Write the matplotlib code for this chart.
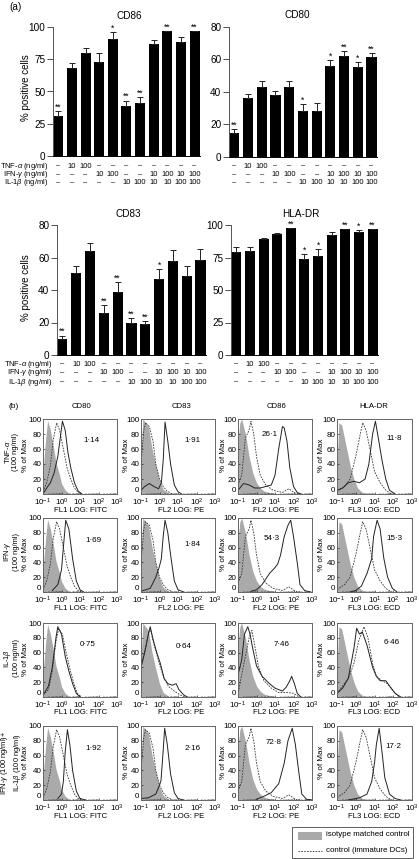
"""
dendritic cell markers: bars of % positive cells and flow cytometry histograms
"""
import matplotlib
matplotlib.use('Agg')
import matplotlib.pyplot as plt
from matplotlib.patches import Rectangle
from matplotlib.transforms import blended_transform_factory

plt.rcParams['font.family'] = ['Liberation Sans', 'DejaVu Sans']
plt.rcParams['mathtext.fontset'] = 'custom'
plt.rcParams['mathtext.rm'] = 'Liberation Sans'
plt.rcParams['mathtext.it'] = 'Liberation Sans:italic'
plt.rcParams['mathtext.bf'] = 'Liberation Sans:bold'

W, H = 419, 859

# part (a), bars
tnf_doses = ['–', '10', '100', '–', '–', '–', '–', '–', '–', '–', '–']
ifn_doses = ['–', '–', '–', '10', '100', '–', '–', '10', '100', '10', '100']
il1_doses = ['–', '–', '–', '–', '–', '10', '100', '10', '10', '100', '100']

cd86_vals = [31, 68, 80, 73, 91, 39, 41, 87, 97, 88, 97]
cd86_tops = [35, 72, 84, 80, 96, 43, 46, 90, 97, 92, 97]
cd86_stars = ['**', '', '', '', '*', '**', '**', '', '**', '', '**']

cd80_vals = [14.5, 36, 43, 38, 43, 28.5, 28.5, 56, 62, 55.5, 61.5]
cd80_tops = [17, 39, 47, 40.5, 46.5, 32.5, 33, 59.5, 65, 58.5, 64]
cd80_stars = ['**', '', '', '', '', '*', '', '*', '**', '*', '**']

cd83_vals = [10, 50.5, 64, 26, 39, 20, 19, 46.5, 58, 48.5, 58.7]
cd83_tops = [12, 54.5, 69, 31, 45, 22.5, 21, 53, 64.5, 54.5, 65]
cd83_stars = ['**', '', '', '**', '**', '**', '**', '*', '', '', '']

hla_vals = [79, 80, 89, 93, 97.5, 73.5, 76.5, 92.5, 97, 94.5, 97]
hla_tops = [83, 83, 90, 94, 97.5, 78, 81.5, 95, 97, 96.5, 97]
hla_stars = ['', '', '', '', '**', '*', '*', '', '**', '*', '**']

# part (b), histograms as (log10 fluorescence, % of max)
iso_cd80 = [(-1, 30), (-.85, 75), (-.75, 98), (-.6, 85), (-.45, 65), (-.3, 42), (-.1, 25), (0, 14), (.2, 5), (.4, 1), (.6, 0)]
iso_cd83 = [(-1, 50), (-.9, 100), (-.6, 90), (-.4, 60), (-.2, 38), (0, 18), (.2, 6), (.5, 1), (.8, 0)]
iso_cd86 = [(-1, 70), (-.9, 95), (-.8, 100), (-.6, 80), (-.4, 50), (-.2, 28), (0, 15), (.2, 8), (.4, 4), (.7, 2), (1, 0)]
iso_hla = [(-1, 40), (-.9, 95), (-.75, 92), (-.5, 62), (-.3, 38), (-.1, 20), (.1, 8), (.3, 3), (.6, 0)]

ctl_cd80 = [(-1, 3), (-.8, 15), (-.6, 38), (-.45, 72), (-.26, 95), (-.1, 85), (.1, 60), (.3, 35), (.5, 20), (.7, 8), (.9, 2), (1.1, 0)]
ctl_cd83 = [(-1, 40), (-.85, 85), (-.75, 95), (-.55, 90), (-.35, 70), (-.2, 40), (0, 20), (.2, 10), (.4, 4), (.7, 0)]
ctl_cd86 = [(-1, 12), (-.8, 25), (-.6, 75), (-.4, 85), (-.3, 97), (-.15, 80), (0, 50), (.2, 25), (.5, 12), (.9, 5), (1.4, 2), (1.75, 7), (2.1, 1), (2.4, 0)]
ctl_hla = [(-1, 3), (-.6, 10), (-.3, 20), (0, 50), (.2, 75), (.37, 95), (.55, 85), (.8, 55), (1, 30), (1.3, 15), (1.6, 5), (1.9, 0)]

tnf_cd80 = [(-1, 0), (-.8, 8), (-.6, 15), (-.4, 28), (-.2, 50), (-.05, 78), (.05, 97), (.2, 85), (.35, 55), (.5, 35), (.7, 15), (.9, 4), (1.1, 0)]
tnf_cd83 = [(-1, 5), (-.8, 10), (-.55, 14), (-.3, 10), (-.05, 7), (.1, 15), (.2, 45), (.3, 96), (.45, 70), (.6, 40), (.8, 12), (1, 3), (1.2, 0)]
tnf_cd86 = [(-1, 5), (-.7, 14), (-.4, 12), (-.1, 8), (.2, 8), (.5, 10), (.8, 12), (1, 25), (1.2, 60), (1.4, 90), (1.5, 88), (1.65, 70), (1.8, 35), (2, 10), (2.2, 2), (2.4, 0)]
tnf_hla = [(-1, 5), (-.7, 8), (-.4, 15), (-.1, 17), (.2, 15), (.5, 20), (.7, 40), (.9, 80), (1.05, 97), (1.2, 75), (1.4, 45), (1.6, 20), (1.8, 5), (2.1, 0)]

ifn_cd80 = [(-.5, 2), (-.2, 10), (0, 30), (.1, 60), (.23, 97), (.4, 85), (.6, 45), (.8, 15), (1, 3), (1.2, 0)]
ifn_cd83 = [(-1, 1), (-.5, 5), (-.2, 20), (0, 35), (.1, 45), (.2, 75), (.3, 97), (.45, 80), (.6, 50), (.8, 15), (1, 3), (1.3, 0)]
ifn_cd86 = [(-.3, 1), (0, 3), (.3, 10), (.7, 25), (1, 33), (1.15, 38), (1.3, 50), (1.5, 75), (1.7, 90), (1.85, 97), (2, 75), (2.2, 40), (2.35, 10), (2.6, 2), (2.9, 0)]
ifn_hla = [(-.3, 0), (0, 2), (.3, 8), (.6, 25), (.85, 45), (.95, 75), (1.14, 97), (1.3, 85), (1.5, 45), (1.7, 20), (1.95, 5), (2.2, 0)]

il1_cd80 = [(-1, 2), (-.7, 15), (-.5, 40), (-.3, 80), (-.2, 95), (0, 85), (.2, 55), (.4, 35), (.6, 18), (.8, 5), (1, 0)]
il1_cd83 = [(-1, 40), (-.8, 60), (-.6, 85), (-.5, 95), (-.35, 78), (-.15, 60), (.05, 45), (.25, 25), (.45, 18), (.7, 16), (.9, 18), (1.05, 10), (1.3, 3), (1.5, 0)]
il1_cd86 = [(-1, 30), (-.8, 50), (-.65, 85), (-.47, 95), (-.35, 85), (-.2, 65), (0, 42), (.3, 28), (.7, 18), (1, 12), (1.4, 8), (1.6, 13), (1.8, 22), (1.9, 28), (2.05, 18), (2.2, 5), (2.4, 0)]
il1_hla = [(-1, 5), (-.7, 12), (-.4, 25), (-.1, 65), (.05, 93), (.2, 85), (.35, 88), (.6, 70), (.9, 40), (1.1, 28), (1.3, 22), (1.6, 22), (1.8, 15), (2.1, 5), (2.4, 0)]

il1_ctl_cd80 = [(-1, 3), (-.7, 10), (-.5, 35), (-.3, 75), (-.15, 92), (.05, 85), (.25, 60), (.45, 38), (.65, 20), (.85, 5), (1.05, 0)]
il1_ctl_cd83 = [(-1, 42), (-.8, 62), (-.6, 85), (-.5, 92), (-.35, 76), (-.15, 58), (.05, 40), (.25, 25), (.5, 14), (.8, 8), (1.1, 3), (1.4, 0)]
il1_ctl_cd86 = [(-1, 3), (-.8, 30), (-.6, 55), (-.4, 80), (-.25, 90), (-.1, 70), (.1, 42), (.4, 22), (.8, 12), (1.2, 6), (1.7, 6), (2, 5), (2.3, 0)]
il1_ctl_hla = [(-1, 5), (-.7, 15), (-.4, 25), (-.1, 45), (.15, 75), (.44, 95), (.65, 80), (.9, 45), (1.1, 28), (1.4, 22), (1.7, 18), (2, 8), (2.3, 0)]

both_cd80 = [(-.2, 2), (0, 8), (.1, 25), (.2, 65), (.32, 95), (.45, 75), (.6, 40), (.8, 12), (1, 2), (1.3, 0)]
both_cd83 = [(-1, 2), (-.6, 3), (-.2, 8), (0, 20), (.08, 26), (.18, 60), (.28, 97), (.42, 75), (.6, 35), (.8, 10), (1, 2), (1.3, 0)]
both_cd86 = [(0, 1), (.4, 5), (.8, 10), (1.2, 22), (1.5, 50), (1.7, 80), (1.93, 97), (2.1, 75), (2.3, 35), (2.45, 8), (2.7, 1), (3, 0)]
both_hla = [(-.4, 0), (.2, 3), (.6, 8), (.85, 25), (1, 50), (1.1, 75), (1.25, 97), (1.4, 65), (1.55, 30), (1.8, 8), (2.1, 2), (2.4, 0)]

marker_names = ['CD80', 'CD83', 'CD86', 'HLA-DR']
channel_names = ['FL1 LOG: FITC', 'FL2 LOG: PE', 'FL2 LOG: PE', 'FL3 LOG: ECD']
iso_curves = [iso_cd80, iso_cd83, iso_cd86, iso_hla]
ctl_curves = [ctl_cd80, ctl_cd83, ctl_cd86, ctl_hla]
solid_rows = [[tnf_cd80, tnf_cd83, tnf_cd86, tnf_hla],
              [ifn_cd80, ifn_cd83, ifn_cd86, ifn_hla],
              [il1_cd80, il1_cd83, il1_cd86, il1_hla],
              [both_cd80, both_cd83, both_cd86, both_hla]]
dash_rows = [ctl_curves, ctl_curves,
             [il1_ctl_cd80, il1_ctl_cd83, il1_ctl_cd86, il1_ctl_hla],
             ctl_curves]
mfi_rows = [['1·14', '1·91', '26·1', '11·8'],
            ['1·69', '1·84', '54·3', '15·3'],
            ['0·75', '0·64', '7·46', '6·46'],
            ['1·92', '2·16', '72·8', '17·2']]
mfi_x = [[91, 192, 270, 394], [93, 192, 272, 394], [88, 184, 282, 392], [93, 193, 274, 393]]
mfi_y = [[440, 440, 435, 439], [541, 544, 539, 539], [645, 646, 644, 643], [748, 748, 743, 747]]


def pixel_axes(left, top, right, bottom):
    return fig.add_axes((left / W, 1 - bottom / H, (right - left) / W, (bottom - top) / H))


fig = plt.figure(figsize=(W / 100, H / 100), dpi=100)
page = fig.add_axes((0, 0, 1, 1))
page.set_xlim(0, W)
page.set_ylim(H, 0)
page.axis('off')
page.set_zorder(5)


def bar_panel(box, title, vals, tops, stars, ymax, yticks, title_xy, rows_y, names_right=None, ylabel_y=None):
    ax = pixel_axes(*box)
    ax.patch.set_alpha(0)
    xs = list(range(len(vals)))
    ax.bar(xs, vals, width=0.74, color='black')
    errs = [t - v for t, v in zip(tops, vals)]
    ax.errorbar(xs, vals, yerr=[[0] * len(vals), errs], fmt='none', ecolor='#222222',
                elinewidth=0.7, capsize=2, capthick=0.7)
    ax.set_xlim(-0.39, 10.4)
    ax.set_ylim(0, ymax)
    ax.set_xticks([])
    ax.set_yticks(yticks)
    ax.tick_params(axis='y', labelsize=7.2, length=4, width=0.6, pad=1.5, color='#333333')
    ax.spines['right'].set_color('none')
    ax.spines['top'].set_color('none')
    ax.spines['left'].set_color('#555555')
    ax.spines['left'].set_linewidth(0.7)
    ax.spines['bottom'].set_linewidth(0.7)
    for x, t, s in zip(xs, tops, stars):
        if s:
            ax.annotate(s, (x, t), xytext=(0, -0.5), textcoords='offset points', ha='center',
                        va='bottom', fontsize=6.2)
    page.text(title_xy[0], title_xy[1], title, ha='center', va='center', fontsize=7.2)
    trans = blended_transform_factory(ax.transData, page.transData)
    for doses, y in zip([tnf_doses, ifn_doses, il1_doses], rows_y):
        for x, d in zip(xs, doses):
            ax.text(x, y, d, transform=trans, ha='center', va='center', fontsize=5.4, clip_on=False)
    if names_right:
        names = ['TNF-$\\alpha$ (ng/ml)', 'IFN-$\\gamma$ (ng/ml)', 'IL-1$\\beta$ (ng/ml)']
        for n, y in zip(names, rows_y):
            page.text(names_right, y, n, ha='right', va='center', fontsize=5.4)
    if ylabel_y:
        page.text(26, ylabel_y, '% positive cells', rotation=90,
                  ha='center', va='center', fontsize=7.0)
    return ax


bar_panel((53, 27, 200, 156), 'CD86', cd86_vals, cd86_tops, cd86_stars, 100, [0, 25, 50, 75, 100],
          (129, 16), (166, 174.5, 183), names_right=48, ylabel_y=87.5)
bar_panel((229, 27, 377, 157), 'CD80', cd80_vals, cd80_tops, cd80_stars, 80, [0, 20, 40, 60, 80],
          (297, 15), (166, 174.5, 183))
bar_panel((57, 225, 206, 355), 'CD83', cd83_vals, cd83_tops, cd83_stars, 80, [0, 20, 40, 60, 80],
          (128, 214), (364, 373, 382), names_right=52, ylabel_y=288)
bar_panel((231, 225, 378, 355), 'HLA-DR', hla_vals, hla_tops, hla_stars, 100, [0, 25, 50, 75, 100],
          (301, 214), (364, 373, 382))

page.text(9, 7, '(a)', fontsize=7.2, ha='left', va='center')
page.text(8, 407, '(b)', fontsize=6, ha='left', va='center')

# part (b) grid
col_lefts = [43, 141, 238, 337]
col_rights = [117, 215, 312, 412]
col_mid = [81, 181, 276, 374]
ylabel_xs = [25, 126, 223, 321]
row_tops = [419, 518, 623, 726]
row_bottoms = [494, 592, 697, 800]
row_names = ['TNF-$\\alpha$\n(100 ng/ml)', 'IFN-$\\gamma$\n(100 ng/ml)', 'IL-1$\\beta$\n(100 ng/ml)',
             'IFN-$\\gamma$ (100 ng/ml)+\nIL-1$\\beta$ (100 ng/ml)']
row_name_y = [452, 552, 658, 763]

for c, name in enumerate(marker_names):
    page.text(col_mid[c], 407, name, ha='center', va='center', fontsize=5.6)

for r in range(4):
    page.text(11, row_name_y[r], row_names[r], rotation=90, ha='center', va='center',
              fontsize=5.4, linespacing=1.15)
    for c in range(4):
        ax = pixel_axes(col_lefts[c], row_tops[r], col_rights[c], row_bottoms[r])
        iso = iso_curves[c]
        dash = dash_rows[r][c]
        solid = solid_rows[r][c]
        ax.fill_between([10 ** p[0] for p in iso], [p[1] for p in iso], 0, color='#aaaaaa', lw=0)
        ax.plot([10 ** p[0] for p in dash], [p[1] for p in dash], color='#333333', lw=0.6,
                dashes=(2, 1.4))
        ax.plot([10 ** p[0] for p in solid], [p[1] for p in solid], color='#222222', lw=0.7)
        ax.set_xscale('log')
        ax.set_xlim(0.1, 1000)
        ax.set_ylim(0, 100)
        ax.set_xticks([0.1, 1, 10, 100, 1000])
        ax.set_xticklabels(['$10^{-1}$', '$10^{0}$', '$10^{1}$', '$10^{2}$', '$10^{3}$'])
        ax.set_yticks([0, 20, 40, 60, 80, 100])
        ax.tick_params(axis='both', labelsize=5.8, length=1.5, width=0.4, pad=1, direction='in')
        ax.tick_params(axis='x', which='minor', length=1, width=0.3, direction='in', labelbottom=False)
        ax.get_yticklabels()[0].set_va('bottom')
        ax.tick_params(axis='x', pad=2)
        for s in ax.spines.values():
            s.set_color('#666666')
            s.set_linewidth(0.7)
        page.text(ylabel_xs[c], (row_tops[r] + row_bottoms[r]) / 2 - 1, '% of Max', rotation=90,
                  ha='center', va='center', fontsize=5.8)
        page.text(col_mid[c], row_bottoms[r] + 16, channel_names[c], ha='center', va='center',
                  fontsize=5.6)
        page.text(mfi_x[r][c], mfi_y[r][c], mfi_rows[r][c], ha='center', va='center', fontsize=5.8)

# legend box
page.add_patch(Rectangle((292, 827), 121, 31, fc='white', ec='#444444', lw=0.6))
page.add_patch(Rectangle((298, 832), 24, 8, fc='#aaaaaa', ec='none'))
page.plot([298, 322], [851, 851], color='#333333', lw=0.6, dashes=(2, 1.4))
page.text(326, 834, 'isotype matched control', fontsize=5.7, ha='left', va='center')
page.text(326, 851, 'control (immature DCs)', fontsize=5.7, ha='left', va='center')

fig.savefig('out.png', dpi=100)
